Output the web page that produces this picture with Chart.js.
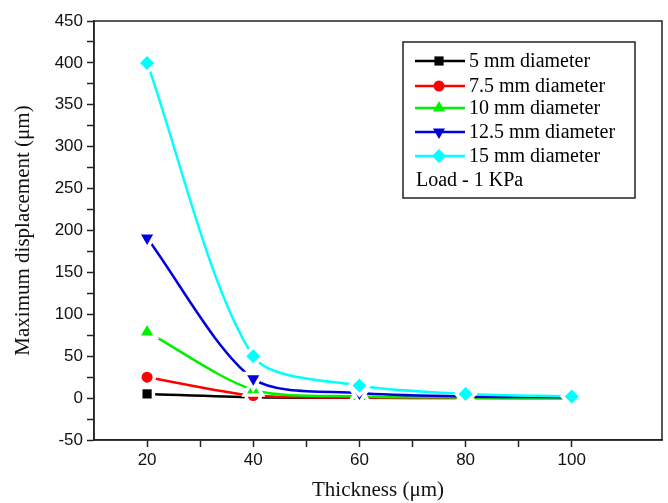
<!DOCTYPE html>
<html>
<head>
<meta charset="utf-8">
<script src="https://cdn.jsdelivr.net/npm/chart.js@4.4.1/dist/chart.umd.min.js"></script>
<style>
  html, body { margin: 0; padding: 0; background: #fff; }
  #wrap { width: 668px; height: 503px; }
</style>
</head>
<body>
<div id="wrap"><canvas id="disp-chart" width="668" height="503"></canvas></div>
<script>
// thickness (um) on x
const thickness = [20, 40, 60, 80, 100];

// maximum displacement (um) per diameter
const d5 = [5, 1, 0.3, 0.1, 0.05];
const d7_5 = [25, 3, 0.8, 0.3, 0.1];
const d10 = [79, 10, 2, 0.8, 0.3];
const d12_5 = [191, 23, 6, 2, 1];
const d15 = [400, 50, 15, 5, 2];

const seriesNames = ['5 mm diameter', '7.5 mm diameter', '10 mm diameter', '12.5 mm diameter', '15 mm diameter'];
const noteText = 'Load - 1 KPa';

const colors = ['#000000', '#ff0000', '#00f000', '#0000e0', '#00ffff'];
const markers = ['rect', 'circle', 'triangle', 'triangle', 'rectRot'];
const rotations = [0, 0, 0, 180, 0];
const radii = [6.5, 5.5, 7, 7, 7];

function pts(vals) {
  return vals.map((v, i) => ({ x: thickness[i], y: v }));
}
const allSeries = [d5, d7_5, d10, d12_5, d15];

const datasets = allSeries.map((vals, i) => ({
  label: seriesNames[i],
  data: pts(vals),
  borderColor: colors[i],
  backgroundColor: colors[i],
  borderWidth: 2.5,
  tension: 0.28,
  pointRadius: 0,
  order: 4 - i
}));

function marker(ctx, i, x, y, r, halo) {
  if (halo) {
    ctx.fillStyle = '#fff';
    ctx.strokeStyle = '#fff';
    ctx.lineWidth = halo;
  } else {
    ctx.fillStyle = colors[i];
  }
  Chart.helpers.drawPoint(ctx, {
    pointStyle: markers[i],
    rotation: rotations[i],
    radius: r,
    borderWidth: halo || 0
  }, x, y);
}

// markers with a white gap round them, drawn after each line
const markerPlugin = {
  id: 'markers',
  afterDatasetDraw(chart, args) {
    const i = args.index;
    const { ctx } = chart;
    ctx.save();
    args.meta.data.forEach((el) => {
      marker(ctx, i, el.x, el.y, radii[i], 7);
      marker(ctx, i, el.x, el.y, radii[i], 0);
    });
    ctx.restore();
  }
};

// box round the plot + legend inside
const framePlugin = {
  id: 'frame',
  afterDraw(chart) {
    const { ctx, chartArea: a } = chart;
    ctx.save();
    ctx.strokeStyle = '#222';
    ctx.lineWidth = 1.5;
    ctx.strokeRect(a.left, a.top, a.right - a.left, a.bottom - a.top);

    // legend box
    const bx = 403, by = 42, bw = 232, bh = 156;
    ctx.fillStyle = '#fff';
    ctx.fillRect(bx, by, bw, bh);
    ctx.strokeRect(bx, by, bw, bh);

    ctx.font = '20px "Liberation Serif", "Times New Roman", serif';
    ctx.textBaseline = 'middle';
    const rowY = [61, 86, 108, 132, 156];
    seriesNames.forEach((name, i) => {
      const y = rowY[i];
      ctx.strokeStyle = colors[i];
      ctx.lineWidth = 2.5;
      ctx.beginPath();
      ctx.moveTo(415, y);
      ctx.lineTo(465, y);
      ctx.stroke();
      marker(ctx, i, 439, y, radii[i], 0);
      ctx.fillStyle = '#000';
      ctx.fillText(name, 469, y + 1);
    });
    ctx.fillStyle = '#000';
    ctx.fillText(noteText, 416, 181);
    ctx.restore();
  }
};

const ctx = document.getElementById('disp-chart').getContext('2d');
new Chart(ctx, {
  type: 'line',
  data: { datasets: datasets },
  options: {
    responsive: false,
    animation: false,
    layout: { padding: { top: 21, right: 6, left: 0, bottom: 0 } },
    plugins: {
      legend: { display: false },
      tooltip: { enabled: false }
    },
    scales: {
      x: {
        type: 'linear',
        min: 10,
        max: 117,
        afterFit(scale) { scale.height = 63; },
        border: { color: '#222', width: 1.5 },
        grid: {
          drawOnChartArea: false,
          tickLength: 7,
          tickWidth: 1.5,
          tickColor: (c) => (c.tick && c.tick.value % 10 === 0 && c.tick.value > 10) ? '#222' : 'rgba(0,0,0,0)'
        },
        ticks: {
          stepSize: 10,
          autoSkip: false,
          maxRotation: 0,
          color: '#111',
          padding: 3,
          font: { family: '"Liberation Sans", Arial, sans-serif', size: 17 },
          callback: (v) => (v % 20 === 0 ? v : '')
        },
        title: {
          display: true,
          text: 'Thickness (μm)',
          color: '#111',
          padding: { top: 10, bottom: 0 },
          font: { family: '"Liberation Serif", "Times New Roman", serif', size: 21 }
        }
      },
      y: {
        min: -50,
        max: 450,
        afterFit(scale) { scale.width = 94; },
        border: { color: '#222', width: 1.5 },
        grid: {
          drawOnChartArea: false,
          tickLength: 7,
          tickWidth: 1.5,
          tickColor: '#222'
        },
        ticks: {
          stepSize: 25,
          autoSkip: false,
          color: '#111',
          padding: 4,
          font: { family: '"Liberation Sans", Arial, sans-serif', size: 17 },
          callback: (v) => (v % 50 === 0 ? v : '')
        },
        title: {
          display: true,
          text: 'Maximum displacement (μm)',
          color: '#111',
          padding: { top: 11, bottom: 0 },
          font: { family: '"Liberation Serif", "Times New Roman", serif', size: 21 }
        }
      }
    }
  },
  plugins: [markerPlugin, framePlugin]
});
</script>
</body>
</html>
